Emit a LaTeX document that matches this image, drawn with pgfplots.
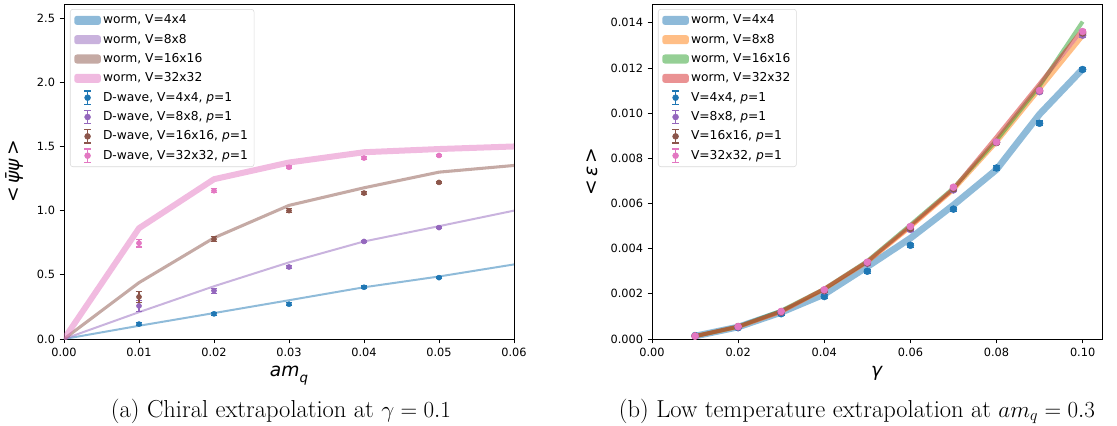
\documentclass[border=0pt]{standalone}
\usepackage{fontspec}
\usepackage{pgfplots}
\pgfplotsset{compat=1.18}
\newfontfamily\djv{DejaVu Sans}
\definecolor{C0}{HTML}{1F77B4}
\definecolor{C1}{HTML}{FF7F0E}
\definecolor{C2}{HTML}{2CA02C}
\definecolor{C3}{HTML}{D62728}
\definecolor{C4}{HTML}{9467BD}
\definecolor{C5}{HTML}{8C564B}
\definecolor{C6}{HTML}{E377C2}
\pgfplotsset{
  mpl/.style={
    scale only axis, width=337.5pt, height=251.25pt,
    axis line style={line width=0.6pt},
    tick align=outside, tick pos=left, major tick length=3.2pt,
    every tick/.style={black, line width=0.6pt},
    ticklabel style={font=\djv\fontsize{8.5}{10}\selectfont},
    scaled ticks=false,
    label style={font=\djv\fontsize{14}{16}\selectfont},
    legend cell align=left,
    legend style={at={(0.0133,0.985)}, anchor=north west,
      draw=black!15, rounded corners=2pt, fill=white,
      font=\djv\fontsize{9.2}{11}\selectfont,
      inner xsep=3pt, inner ysep=2pt, row sep=1.9pt,
      nodes={inner sep=1.6pt, text height=7.2pt, text depth=2.2pt}},
  },
  worm/.style 2 args={color=#1, line width=#2, opacity=0.5, line join=round, mark=none,
    legend image code/.code={\path[fill=#1, fill opacity=0.5, draw=none] (0pt,-3.4pt) rectangle (20pt,3.4pt);}},
  dwave/.style 2 args={color=#1, only marks, mark=*, mark size=#2,
    mark options={solid, fill=#1, draw=#1},
    error bars/.cd, y dir=both, y explicit,
    error mark=-,
    error bar style={line width=0.8pt, #1},
    error mark options={rotate=90, mark size=2.6pt, line width=0.8pt, #1},
    /pgfplots/.cd,
    legend image code/.code={
      \draw[#1, line width=0.8pt] (10pt,-5pt)--(10pt,5pt) (7.6pt,-5pt)--(12.4pt,-5pt) (7.6pt,5pt)--(12.4pt,5pt);
      \fill[#1] (10pt,0pt) circle (2.2pt);}},
}
\begin{document}
\begin{tikzpicture}
\useasboundingbox (0,0) rectangle (837.75pt,318.75pt);
% ---------------- left panel ----------------
\begin{axis}[mpl, name=L, at={(48pt,64.5pt)}, anchor=south west,
  xmin=0, xmax=0.06, ymin=0, ymax=2.61,
  xtick={0,0.01,0.02,0.03,0.04,0.05,0.06},
  xticklabels={0.00,0.01,0.02,0.03,0.04,0.05,0.06},
  ytick={0,0.5,1,1.5,2,2.5},
  yticklabels={0.0,0.5,1.0,1.5,2.0,2.5},
  xlabel={\textit{am}\raisebox{-0.3em}{\fontsize{10}{12}\selectfont\textit{q}}},
  xlabel style={at={(axis description cs:0.5,-0.1125)}, anchor=base},
  ylabel={<\,\textit{ψ̄ψ}\,>},
  ylabel style={at={(axis description cs:-0.109,0.5)}, anchor=center, rotate=0},
]
\addplot[worm={C0}{1.5pt}] coordinates {(0,0)(0.01,0.103)(0.02,0.202)(0.03,0.302)(0.04,0.403)(0.05,0.487)(0.06,0.581)};
\addlegendentry{worm, V=4x4}
\addplot[worm={C4}{1.5pt}] coordinates {(0,0)(0.01,0.209)(0.02,0.411)(0.03,0.597)(0.04,0.760)(0.05,0.879)(0.06,1.0)};
\addlegendentry{worm, V=8x8}
\addplot[worm={C5}{2.3pt}] coordinates {(0,0)(0.01,0.439)(0.02,0.788)(0.03,1.041)(0.04,1.178)(0.05,1.300)(0.06,1.352)};
\addlegendentry{worm, V=16x16}
\addplot[worm={C6}{4.5pt}] coordinates {(0,0)(0.01,0.863)(0.02,1.245)(0.03,1.375)(0.04,1.455)(0.05,1.480)(0.06,1.500)};
\addlegendentry{worm, V=32x32}
\addplot[dwave={C0}{1.9pt}] coordinates {(0.01,0.116)+-(0,0.01)(0.02,0.196)+-(0,0.01)(0.03,0.271)+-(0,0.01)(0.04,0.403)+-(0,0.01)(0.05,0.478)+-(0,0.01)};
\addlegendentry{D-wave, V=4x4, \textit{p}=1}
\addplot[dwave={C4}{1.9pt}] coordinates {(0.01,0.258)+-(0,0.045)(0.02,0.377)+-(0,0.02)(0.03,0.561)+-(0,0.015)(0.04,0.760)+-(0,0.01)(0.05,0.868)+-(0,0.01)};
\addlegendentry{D-wave, V=8x8, \textit{p}=1}
\addplot[dwave={C5}{1.9pt}] coordinates {(0.01,0.328)+-(0,0.04)(0.02,0.778)+-(0,0.02)(0.03,1.0)+-(0,0.015)(0.04,1.137)+-(0,0.01)(0.05,1.220)+-(0,0.01)};
\addlegendentry{D-wave, V=16x16, \textit{p}=1}
\addplot[dwave={C6}{1.9pt}] coordinates {(0.01,0.747)+-(0,0.03)(0.02,1.155)+-(0,0.015)(0.03,1.338)+-(0,0.01)(0.04,1.41)+-(0,0.01)(0.05,1.43)+-(0,0.01)};
\addlegendentry{D-wave, V=32x32, \textit{p}=1}
\end{axis}
% ---------------- right panel ----------------
\begin{axis}[mpl, name=R, at={(489pt,64.5pt)}, anchor=south west,
  xmin=0, xmax=0.1045, ymin=0, ymax=0.01483,
  xtick={0,0.02,0.04,0.06,0.08,0.1},
  xticklabels={0.00,0.02,0.04,0.06,0.08,0.10},
  ytick={0,0.002,0.004,0.006,0.008,0.01,0.012,0.014},
  yticklabels={0.000,0.002,0.004,0.006,0.008,0.010,0.012,0.014},
  xlabel={\textit{γ}},
  xlabel style={at={(axis description cs:0.5,-0.1125)}, anchor=base},
  ylabel={<\,\textit{ε}\,>},
  ylabel style={at={(axis description cs:-0.133,0.5)}, anchor=center},
]
\addplot[worm={C0}{5pt}] coordinates {(0.01,0.00013)(0.02,0.00053)(0.03,0.00118)(0.04,0.00198)(0.05,0.00320)(0.06,0.00446)(0.07,0.00593)(0.08,0.00750)(0.09,0.00995)(0.10,0.01195)};
\addlegendentry{worm, V=4x4}
\addplot[worm={C1}{3pt}] coordinates {(0.01,0.000125)(0.02,0.00053)(0.03,0.00120)(0.04,0.00220)(0.05,0.00340)(0.06,0.00495)(0.07,0.00660)(0.08,0.00870)(0.09,0.01105)(0.10,0.01340)};
\addlegendentry{worm, V=8x8}
\addplot[worm={C2}{3pt}] coordinates {(0.01,0.000125)(0.02,0.00055)(0.03,0.00125)(0.04,0.00222)(0.05,0.00345)(0.06,0.00505)(0.07,0.00668)(0.08,0.00880)(0.09,0.01120)(0.10,0.01405)};
\addlegendentry{worm, V=16x16}
\addplot[worm={C3}{3pt}] coordinates {(0.01,0.000125)(0.02,0.00055)(0.03,0.00122)(0.04,0.00222)(0.05,0.00343)(0.06,0.00500)(0.07,0.00665)(0.08,0.00895)(0.09,0.01130)(0.10,0.01370)};
\addlegendentry{worm, V=32x32}
\addplot[dwave={C0}{2.6pt}] coordinates {(0.01,0.00015)+-(0,0.00005)(0.02,0.0005)+-(0,0.00005)(0.03,0.00112)+-(0,0.00006)(0.04,0.00188)+-(0,0.00007)(0.05,0.0030)+-(0,0.00008)(0.06,0.00415)+-(0,0.00008)(0.07,0.00575)+-(0,0.00009)(0.08,0.00757)+-(0,0.0001)(0.09,0.00955)+-(0,0.0001)(0.10,0.01193)+-(0,0.0001)};
\addlegendentry{V=4x4, \textit{p}=1}
\addplot[dwave={C4}{2.6pt}] coordinates {(0.01,0.00013)+-(0,0.00005)(0.02,0.00053)+-(0,0.00005)(0.03,0.00118)+-(0,0.00006)(0.04,0.00213)+-(0,0.00007)(0.05,0.00335)+-(0,0.00008)(0.06,0.00485)+-(0,0.00008)(0.07,0.0066)+-(0,0.00009)(0.08,0.0087)+-(0,0.0001)(0.09,0.01095)+-(0,0.0001)(0.10,0.01345)+-(0,0.0001)};
\addlegendentry{V=8x8, \textit{p}=1}
\addplot[dwave={C5}{2.6pt}] coordinates {(0.01,0.00013)+-(0,0.00005)(0.02,0.00055)+-(0,0.00005)(0.03,0.0012)+-(0,0.00006)(0.04,0.00215)+-(0,0.00007)(0.05,0.00337)+-(0,0.00008)(0.06,0.0049)+-(0,0.00008)(0.07,0.00665)+-(0,0.00009)(0.08,0.0087)+-(0,0.0001)(0.09,0.011)+-(0,0.0001)(0.10,0.01355)+-(0,0.0001)};
\addlegendentry{V=16x16, \textit{p}=1}
\addplot[dwave={C6}{2.6pt}] coordinates {(0.01,0.00013)+-(0,0.00005)(0.02,0.00055)+-(0,0.00005)(0.03,0.00122)+-(0,0.00006)(0.04,0.00218)+-(0,0.00007)(0.05,0.0034)+-(0,0.00008)(0.06,0.00498)+-(0,0.00008)(0.07,0.00672)+-(0,0.00009)(0.08,0.00872)+-(0,0.0001)(0.09,0.0110)+-(0,0.0001)(0.10,0.01361)+-(0,0.0001)};
\addlegendentry{V=32x32, \textit{p}=1}
\end{axis}
% ---------------- captions ----------------
\node[anchor=base, inner sep=0pt, font=\fontsize{18.4}{22}\selectfont] at (210.75pt,6pt) {(a) Chiral extrapolation at $\gamma=0.1$};
\node[anchor=base, inner sep=0pt, font=\fontsize{18.4}{22}\selectfont] at (642.75pt,6pt) {(b) Low temperature extrapolation at $am_q=0.3$};
\end{tikzpicture}
\end{document}
